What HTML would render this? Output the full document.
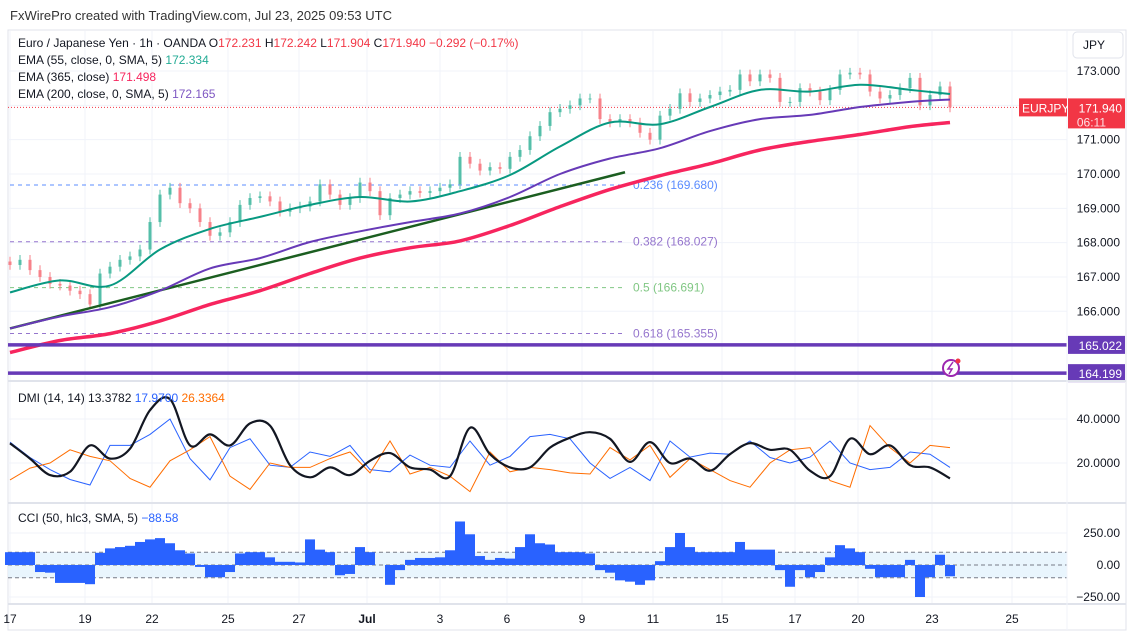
<!DOCTYPE html>
<html><head><meta charset="utf-8">
<style>
html,body{margin:0;padding:0;background:#fff;width:1127px;height:639px;overflow:hidden;font-family:"Liberation Sans",sans-serif;}
svg text{font-family:"Liberation Sans",sans-serif;}
</style></head>
<body>
<svg id="chart" width="1127" height="639" viewBox="0 0 1127 639" xmlns="http://www.w3.org/2000/svg">
  <text x="10" y="20" font-size="13" fill="#333">FxWirePro created with TradingView.com, Jul 23, 2025 09:53 UTC</text>
  <rect x="8" y="30" width="1118" height="600" fill="none" stroke="#e0e3eb"/>
  <g id="grid"></g>
  <g id="main"></g>
  <g id="dmi"></g>
  <g id="cci"></g>
  <g id="axes"></g>
  <g font-size="12" fill="#131722">
    <text x="18" y="47">Euro / Japanese Yen · 1h · OANDA  O<tspan fill="#f23645">172.231</tspan>  H<tspan fill="#f23645">172.242</tspan>  L<tspan fill="#f23645">171.904</tspan>  C<tspan fill="#f23645">171.940</tspan> <tspan fill="#f23645">−0.292 (−0.17%)</tspan></text>
    <text x="18" y="64">EMA (55, close, 0, SMA, 5)  <tspan fill="#22ab94">172.334</tspan></text>
    <text x="18" y="81">EMA (365, close)  <tspan fill="#f7255e">171.498</tspan></text>
    <text x="18" y="98">EMA (200, close, 0, SMA, 5)  <tspan fill="#7e57c2">172.165</tspan></text>
    <text x="18" y="402">DMI (14, 14)  13.3782  <tspan fill="#2962ff">17.9700</tspan>  <tspan fill="#ff6d00">26.3364</tspan></text>
    <text x="18" y="522">CCI (50, hlc3, SMA, 5)  <tspan fill="#2962ff">−88.58</tspan></text>
  </g>
</svg>
<script>
const closes=[167.35,167.5,167.2,167.0,166.8,166.75,166.6,166.5,166.2,167.1,167.3,167.5,167.6,167.8,168.6,169.4,169.6,169.15,169.0,168.6,168.2,168.3,168.6,169.1,169.3,169.35,169.2,168.9,169.0,169.05,169.2,169.7,169.4,169.1,169.3,169.75,169.5,168.8,169.3,169.4,169.5,169.45,169.5,169.6,169.7,170.5,170.3,170.1,170.2,170.15,170.5,170.7,171.1,171.4,171.8,171.9,172.0,172.2,172.2,171.6,171.5,171.6,171.5,171.2,171.0,171.7,171.9,172.35,172.1,172.2,172.3,172.4,172.45,172.9,172.7,172.9,172.8,172.1,172.1,172.5,172.4,172.15,172.45,172.9,172.95,172.9,172.4,172.2,172.3,172.5,172.8,172.0,172.3,172.55,171.94];
const ema55=[166.55,166.9,166.75,167.8,168.4,168.75,169.1,169.33,169.2,169.5,169.97,170.8,171.5,171.45,171.95,172.45,172.4,172.6,172.45,172.33];
const ema200=[165.5,165.85,166.12,166.6,167.25,167.55,168.02,168.33,168.6,168.85,169.33,170.0,170.45,170.75,171.25,171.6,171.72,171.95,172.1,172.17];
const ema365=[164.8,165.15,165.35,165.72,166.2,166.6,167.1,167.55,167.85,168.05,168.5,169.05,169.55,169.95,170.3,170.7,170.95,171.15,171.38,171.5];
const adx=[29,22,14.5,16,28,22,26.5,44,49,28,33,28,38,37,19,13.5,18,14.5,21,24.5,18,17,14,36,24,18,18,27,31.5,34,31,20.5,29.5,20,22,16.5,24,29,26,26,16.5,14,31,24,28,19,18,13];
const plusDI=[29.5,22.5,17,12.5,10,28,28,33,40,22,12.3,27,31,19,18,25,23,28,17,16,23.6,19,18,30,19,23,32,33,31,20,13,18,12,30,22.7,24.5,24,30,22.5,20,22.7,30,20,17,18,25,24,18];
const minusDI=[12.3,17.7,20,26,23,21,13,9,21,26,32,14,8,20,18,18,22,25,15.5,30,15,18,14,7,25,16,18,17,15.5,15,27,21.4,28,13.5,22,17,12,9,20,26,27,12,9,37,27,20,28,27];
const cciVals=[100,100,100,-55,-60,-140,-140,-140,-150,95,130,140,150,180,200,210,170,115,90,-15,-95,-95,-55,90,100,100,60,25,25,20,200,120,100,-80,-70,140,100,0,-155,-40,40,55,55,60,115,340,240,70,40,55,50,140,240,170,160,100,100,100,90,-40,-60,-120,-130,-155,-120,30,140,250,140,100,100,100,100,180,120,120,120,-40,-170,-40,-95,-55,60,155,130,100,-30,-95,-95,-95,40,-250,-95,80,-88];
const priceTicks=[173,172,171,170,169,168,167,166];
const priceTickLabels=["173.000","","171.000","170.000","169.000","168.000","167.000","166.000"];
const dmiTicks=[40,20];
const dmiTickLabels=["40.0000","20.0000"];
const cciTicks=[250,0,-250];
const cciTickLabels=["250.00","0.00","−250.00"];
const dateLabels=["17","19","22","25","27","Jul","3","6","9","11","15","17","20","23","25"];
const dateBars=[0,7.5,14.2,21.8,28.9,35.7,43,49.7,57.2,64.3,71.2,78.5,84.8,92.2,100.2];
const fibLevels=[169.680,168.027,166.691,165.355];
const fibNames=["0.236","0.382","0.5","0.618"];
const hLevels=[165.022,164.199];

const NS="http://www.w3.org/2000/svg";
const py=p=>71+(173-p)*34.33;
const dy=v=>463-(v-20)*2.2;
const cy=v=>565-v*0.128;
const bx=i=>10+i*10;
function mk(parent,tag,attrs){const e=document.createElementNS(NS,tag);for(const k in attrs)e.setAttribute(k,attrs[k]);parent.appendChild(e);return e;}
const G=document.getElementById('grid'),M=document.getElementById('main'),D=document.getElementById('dmi'),C=document.getElementById('cci'),A=document.getElementById('axes');

dateBars.forEach((b,i)=>{const l=mk(G,'line',{x1:bx(b),x2:bx(b),y1:31,y2:603,stroke:'#f0f3fa'});

});
priceTicks.forEach(p=>{const l=mk(G,'line',{x1:8,x2:1067,y1:py(p),y2:py(p),stroke:'#f0f3fa'});

});
[dmiTicks.map(dy),cciTicks.map(cy)].flat().forEach(y=>{const l=mk(G,'line',{x1:8,x2:1067,y1:y,y2:y,stroke:'#f0f3fa'});

});

const fibCols=['#5b8cff','#9575cd','#81c784','#9575cd'];
fibLevels.forEach((f,i)=>{const l=mk(M,'line',{x1:10,x2:625,y1:py(f),y2:py(f),stroke:fibCols[i],'stroke-dasharray':'4,4'});


const t=mk(M,'text',{x:633,y:py(f)+4,'font-size':12,fill:fibCols[i]});t.textContent=fibNames[i]+' ('+f.toFixed(3)+')';

});

const cur=closes[closes.length-1];
const cl=mk(M,'line',{x1:8,x2:1067,y1:py(cur),y2:py(cur),stroke:'#f23645','stroke-dasharray':'1,2','stroke-width':1});



closes.forEach((c,i)=>{const o=i?closes[i-1]:c+0.1;const up=c>=o;const col=up?'#55bfa9':'#f7828a';
const hi=Math.max(o,c)+0.14,lo=Math.min(o,c)-0.14;
const w=mk(M,'line',{x1:bx(i),x2:bx(i),y1:py(hi),y2:py(lo),stroke:col});


const r=mk(M,'rect',{x:bx(i)-1.5,y:py(Math.max(o,c)),width:3,height:Math.max(1,Math.abs(py(o)-py(c))),fill:col});

});

const tl=mk(M,'line',{x1:10,y1:py(165.5),x2:625,y2:py(170.05),stroke:'#1b5e20','stroke-width':2.5});



function pathFrom(arr,xf,yf){return arr.map((v,i)=>(i?'L':'M')+xf(i).toFixed(1)+','+yf(v).toFixed(1)).join('');}
function smoothFrom(arr,xf,yf){const P=arr.map((v,i)=>[xf(i),yf(v)]);let d='M'+P[0][0]+','+P[0][1];
for(let i=0;i<P.length-1;i++){const p0=P[Math.max(0,i-1)],p1=P[i],p2=P[i+1],p3=P[Math.min(P.length-1,i+2)];
const c1x=p1[0]+(p2[0]-p0[0])/6,c1y=p1[1]+(p2[1]-p0[1])/6,c2x=p2[0]-(p3[0]-p1[0])/6,c2y=p2[1]-(p3[1]-p1[1])/6;
d+='C'+c1x.toFixed(1)+','+c1y.toFixed(1)+' '+c2x.toFixed(1)+','+c2y.toFixed(1)+' '+p2[0].toFixed(1)+','+p2[1].toFixed(1);}return d;}
const ex=k=>Math.min(10+50*k,950);
const e365=mk(M,'path',{d:smoothFrom(ema365,ex,py),fill:'none',stroke:'#f7255e','stroke-width':3.5});


const e200=mk(M,'path',{d:smoothFrom(ema200,ex,py),fill:'none',stroke:'#673ab7','stroke-width':2});


const e55=mk(M,'path',{d:smoothFrom(ema55,ex,py),fill:'none',stroke:'#089981','stroke-width':2});



hLevels.forEach(h=>{const l=mk(M,'line',{x1:8,x2:1067,y1:py(h),y2:py(h),stroke:'#673ab7','stroke-width':3.5});


const r=mk(A,'rect',{x:1068,y:py(h)-9,width:57,height:18,fill:'#673ab7'});


const t=mk(A,'text',{x:1122,y:py(h)+5,'font-size':12,fill:'#fff','text-anchor':'end'});t.textContent=h.toFixed(3);

});

const ic=mk(M,'circle',{cx:951,cy:368,r:8,fill:'#fff',stroke:'#9c27b0','stroke-width':2});


const icd=mk(M,'circle',{cx:958,cy:361,r:2.5,fill:'#f23645'});


const ib=mk(M,'path',{d:'M953,362 L948,369 L952,369 L949,374',fill:'none',stroke:'#9c27b0','stroke-width':1.5});



[381,503,604].forEach(y=>{const l=mk(A,'line',{x1:8,x2:1126,y1:y,y2:y,stroke:'#e0e3eb','stroke-width':2});

});
const vs=mk(A,'line',{x1:1067,x2:1067,y1:31,y2:630,stroke:'#f0f3fa'});



const dx=k=>10+20*k;
const pdi=mk(D,'path',{d:pathFrom(plusDI,dx,dy),fill:'none',stroke:'#2962ff','stroke-width':1});


const mdi=mk(D,'path',{d:pathFrom(minusDI,dx,dy),fill:'none',stroke:'#ff6d00','stroke-width':1});


const adl=mk(D,'path',{d:smoothFrom(adx,dx,dy),fill:'none',stroke:'#131722','stroke-width':2.2});



const band=mk(C,'rect',{x:8,y:cy(100),width:1059,height:cy(-100)-cy(100),fill:'#e3f2fd',opacity:0.8});


[100,0,-100].forEach(v=>{const l=mk(C,'line',{x1:8,x2:1067,y1:cy(v),y2:cy(v),stroke:'#787b86','stroke-dasharray':'4,3'});

});
cciVals.forEach((v,i)=>{const y0=cy(0),y1=cy(v);const r=mk(C,'rect',{x:bx(i)-5,y:Math.min(y0,y1),width:10,height:Math.abs(y1-y0),fill:'#2962ff'});

});

priceTicks.forEach((p,i)=>{if(!priceTickLabels[i])return;const t=mk(A,'text',{x:1120,y:py(p)+4,'font-size':12,fill:'#131722','text-anchor':'end'});t.textContent=priceTickLabels[i];

});
dmiTicks.forEach((v,i)=>{const t=mk(A,'text',{x:1120,y:dy(v)+4,'font-size':12,fill:'#131722','text-anchor':'end'});t.textContent=dmiTickLabels[i];

});
cciTicks.forEach((v,i)=>{const t=mk(A,'text',{x:1120,y:cy(v)+4,'font-size':12,fill:'#131722','text-anchor':'end'});t.textContent=cciTickLabels[i];

});
dateLabels.forEach((d,i)=>{const t=mk(A,'text',{x:bx(dateBars[i]),y:623,'font-size':12,fill:'#131722','text-anchor':'middle','font-weight':d==='Jul'?'bold':'normal'});t.textContent=d;

});

const jb=mk(A,'rect',{x:1073,y:32,width:50,height:26,rx:4,fill:'#fff',stroke:'#e0e3eb'});


const jt=mk(A,'text',{x:1083,y:49,'font-size':12,fill:'#131722'});jt.textContent='JPY';


const st=mk(A,'rect',{x:1019,y:py(cur)-9,width:48,height:18,fill:'#f23645'});


const stt=mk(A,'text',{x:1022,y:py(cur)+5,'font-size':12,fill:'#fff'});stt.textContent='EURJPY';


const pt=mk(A,'rect',{x:1068,y:py(cur)-9,width:57,height:30,fill:'#f23645'});


const ptt=mk(A,'text',{x:1122,y:py(cur)+5,'font-size':12,fill:'#fff','text-anchor':'end'});ptt.textContent=cur.toFixed(3);


const ctt=mk(A,'text',{x:1106,y:py(cur)+19,'font-size':12,fill:'#fde0e3','text-anchor':'end'});ctt.textContent='06:11';


</script>
</body></html>
